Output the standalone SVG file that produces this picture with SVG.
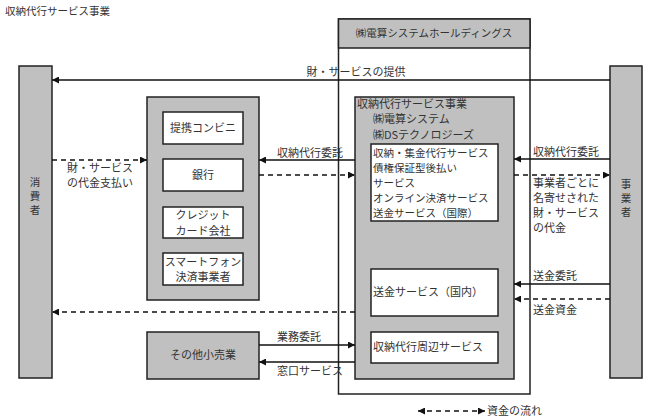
<svg xmlns="http://www.w3.org/2000/svg" width="648" height="420" viewBox="0 0 648 420">
<defs>
<style>
text{font-family:"Noto Sans CJK JP","Liberation Sans",sans-serif;font-size:11px;fill:#333;}
.c{text-anchor:middle;}
.v{font-size:10.5px;}
.s{font-size:10.5px;}
.box{stroke:#222;stroke-width:1.5;}
.g{fill:#c0c0c0;}
.w{fill:#fff;}
.ln{stroke:#111;stroke-width:1.3;fill:none;}
.ds{stroke:#111;stroke-width:1.3;fill:none;stroke-dasharray:5,4;}
</style>
<marker id="ah" viewBox="0 0 10 10" refX="10" refY="5" markerWidth="8" markerHeight="7" markerUnits="userSpaceOnUse" orient="auto-start-reverse">
<path d="M0,0 L10,5 L0,10 z" fill="#111"/>
</marker>
</defs>
<rect width="648" height="420" fill="#fff"/>
<text x="5" y="15" style="font-size:10.5px">収納代行サービス事業</text>

<g id="holdings">
<rect class="box w" x="338.5" y="19" width="191.5" height="375"/>
<rect class="box g" x="338.5" y="19" width="191.5" height="29"/>
<text class="c" x="434" y="37" style="font-size:10.5px">㈱電算システムホールディングス</text>
</g>

<g id="consumer">
<rect class="box g" x="19" y="66" width="33" height="312"/>
<text class="c v" x="35" y="186">消</text>
<text class="c v" x="35" y="200">費</text>
<text class="c v" x="35" y="214">者</text>
</g>

<g id="business">
<rect class="box g" x="610" y="66" width="32" height="312"/>
<text class="c v" x="626" y="188">事</text>
<text class="c v" x="626" y="202">業</text>
<text class="c v" x="626" y="216">者</text>
</g>

<g id="partners">
<rect class="box g" x="147" y="97" width="112" height="203"/>
<g id="conveni"><rect class="box w" x="163" y="112" width="80" height="32"/><text class="c" x="203" y="132">提携コンビニ</text></g>
<g id="bank"><rect class="box w" x="163" y="159" width="80" height="32"/><text class="c" x="203" y="179">銀行</text></g>
<g id="credit"><rect class="box w" x="163" y="207" width="80" height="31"/><text class="c" x="203" y="219">クレジット</text><text class="c" x="203" y="235">カード会社</text></g>
<g id="smartphone"><rect class="box w" x="163" y="253" width="80" height="32"/><text class="c" x="203" y="266">スマートフォン</text><text class="c" x="203" y="281">決済事業者</text></g>
</g>

<g id="retail">
<rect class="box g" x="147" y="332" width="112" height="47"/>
<text class="c" x="203" y="359">その他小売業</text>
</g>

<g id="agency">
<rect class="box g" x="355" y="97" width="159" height="282"/>
<text x="357" y="108">収納代行サービス事業</text>
<text x="373" y="123">㈱電算システム</text>
<text x="373" y="139">㈱DSテクノロジーズ</text>
<g id="services1">
<rect class="box w" x="371" y="144" width="127" height="77"/>
<text class="s" x="373" y="157">収納・集金代行サービス</text>
<text class="s" x="373" y="172">債権保証型後払い</text>
<text class="s" x="373" y="187">サービス</text>
<text class="s" x="373" y="202">オンライン決済サービス</text>
<text class="s" x="373" y="217">送金サービス（国際）</text>
</g>
<g id="domestic"><rect class="box w" x="371" y="269" width="127" height="47"/><text x="373" y="296">送金サービス（国内）</text></g>
<g id="peripheral"><rect class="box w" x="371" y="332" width="127" height="31"/><text x="373" y="351">収納代行周辺サービス</text></g>
</g>

<g id="connectors">
<line class="ln" x1="610" y1="80" x2="52" y2="80" marker-end="url(#ah)"/>
<text class="c" x="356" y="76">財・サービスの提供</text>

<line class="ds" x1="52" y1="160" x2="147" y2="160" marker-end="url(#ah)"/>
<text class="c" x="100" y="172">財・サービス</text>
<text class="c" x="100" y="187">の代金支払い</text>

<line class="ln" x1="355" y1="160" x2="259" y2="160" marker-end="url(#ah)"/>
<text x="277" y="157">収納代行委託</text>
<line class="ds" x1="259" y1="175" x2="355" y2="175" marker-end="url(#ah)"/>

<line class="ds" x1="355" y1="312" x2="52" y2="312" marker-end="url(#ah)"/>

<line class="ln" x1="259" y1="345" x2="355" y2="345" marker-end="url(#ah)"/>
<text x="277" y="341">業務委託</text>
<line class="ln" x1="355" y1="362" x2="259" y2="362" marker-end="url(#ah)"/>
<text x="277" y="375">窓口サービス</text>

<line class="ln" x1="610" y1="159" x2="514" y2="159" marker-end="url(#ah)"/>
<text x="533" y="156">収納代行委託</text>
<line class="ds" x1="514" y1="175" x2="610" y2="175" marker-end="url(#ah)"/>
<text x="533" y="187">事業者ごとに</text>
<text x="533" y="202">名寄せされた</text>
<text x="533" y="217">財・サービス</text>
<text x="533" y="232">の代金</text>

<line class="ln" x1="610" y1="284" x2="514" y2="284" marker-end="url(#ah)"/>
<text x="533" y="280">送金委託</text>
<line class="ds" x1="610" y1="299" x2="514" y2="299" marker-end="url(#ah)"/>
<text x="533" y="314">送金資金</text>
</g>

<g id="legend">
<line class="ds" x1="418" y1="411" x2="485" y2="411" marker-start="url(#ah)" marker-end="url(#ah)"/>
<text x="487" y="415">資金の流れ</text>
</g>
</svg>
